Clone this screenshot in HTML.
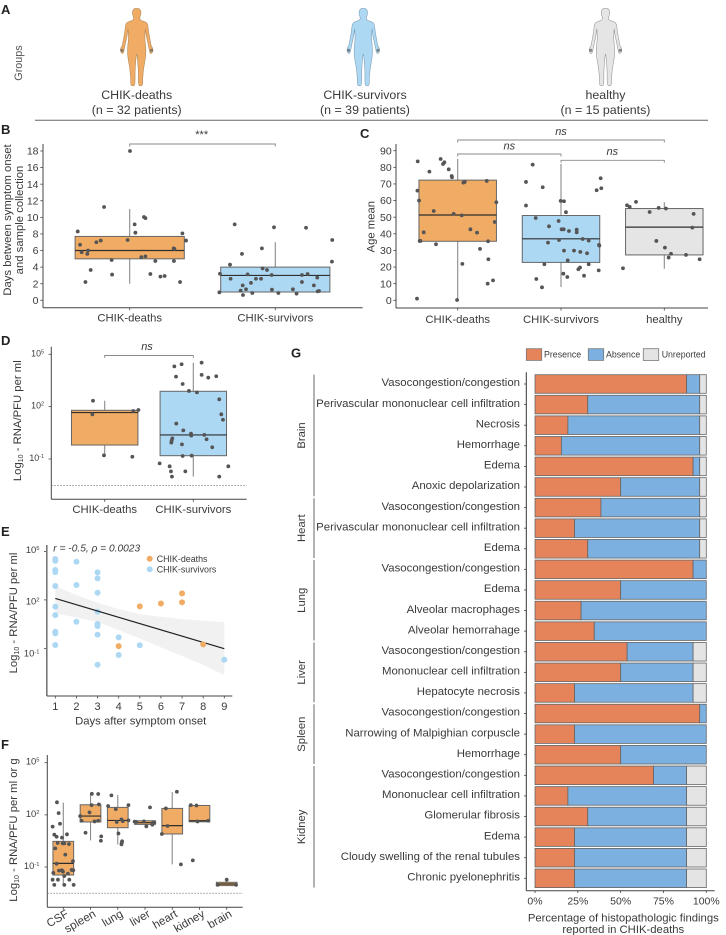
<!DOCTYPE html>
<html lang="en">
<head>
<meta charset="utf-8">
<title>CHIK deaths and survivors multi-panel figure</title>
<style>
html,body{margin:0;padding:0;background:#fff}
svg{display:block;font-family:"Liberation Sans",sans-serif;fill:#3a3a3a;filter:blur(0.3px)}
.letter{font-size:13px;font-weight:bold;fill:#222}
.t{font-size:11.3px}
.m{text-anchor:middle}
</style>
</head>
<body>
<svg id="fig" width="726" height="935" viewBox="0 0 726 935" xmlns="http://www.w3.org/2000/svg">
  <g id="panel-a">
    <text class="letter" x="1" y="14">A</text>
    <text transform="translate(22,63) rotate(-90)" class="m" font-size="10.8" fill="#555">Groups</text>
    <text class="m" x="136.7" y="99" font-size="12.4">CHIK-deaths</text>
    <text class="m" x="136.7" y="114" font-size="12.4">(n = 32 patients)</text>
    <text class="m" x="365" y="99" font-size="12.4">CHIK-survivors</text>
    <text class="m" x="365" y="114" font-size="12.4">(n = 39 patients)</text>
    <text class="m" x="605.5" y="99" font-size="12.4">healthy</text>
    <text class="m" x="605.5" y="114" font-size="12.4">(n = 15 patients)</text>
    <line x1="35" y1="120.3" x2="708" y2="120.3" stroke="#666" stroke-width="1"/>
  </g>

  <g id="panel-b">
    <text class="letter" x="1" y="134">B</text>
    <text transform="translate(11,220) rotate(-90)" class="t m">Days between symptom onset</text>
    <text transform="translate(23,220) rotate(-90)" class="t m">and sample collection</text>
    <text class="m" x="201.7" y="138" font-size="11">***</text>
  </g>

  <g id="panel-c">
    <text class="letter" x="360" y="138">C</text>
    <text transform="translate(374.5,226.7) rotate(-90)" class="t m">Age mean</text>
    <text class="m" x="561" y="135" font-size="11" font-style="italic">ns</text>
    <text class="m" x="509.3" y="149.5" font-size="11" font-style="italic">ns</text>
    <text class="m" x="612.3" y="155" font-size="11" font-style="italic">ns</text>
  </g>

  <g id="panel-d">
    <text class="letter" x="1" y="345">D</text>
    <text transform="translate(21,420.7) rotate(-90)" class="t m">Log<tspan dy="2" font-size="7">10</tspan><tspan dy="-2"> - RNA/PFU per ml</tspan></text>
    <text class="m" x="147" y="350" font-size="11" font-style="italic">ns</text>
  </g>

  <g id="panel-e">
    <text class="letter" x="1" y="536">E</text>
    <text transform="translate(17,613) rotate(-90)" class="t m">Log<tspan dy="2" font-size="7">10</tspan><tspan dy="-2"> - RNA/PFU per ml</tspan></text>
    <text class="t m" x="140.7" y="724.5">Days after symptom onset</text>
  </g>

  <g id="panel-f">
    <text class="letter" x="1" y="749">F</text>
    <text transform="translate(17,830) rotate(-90)" class="t m">Log<tspan dy="2" font-size="7">10</tspan><tspan dy="-2"> - RNA/PFU per ml or g</tspan></text>
  </g>

  <g id="panel-g">
    <text class="letter" x="291" y="357.7">G</text>
    <rect x="526.3" y="348.7" width="15.4" height="11.7" fill="#E5835A" stroke="#777" stroke-width="0.8"/>
    <text x="544" y="357.3" font-size="8.8">Presence</text>
    <rect x="588.3" y="348.7" width="15.4" height="11.7" fill="#7BB0E0" stroke="#777" stroke-width="0.8"/>
    <text x="606" y="357.3" font-size="8.8">Absence</text>
    <rect x="643.3" y="348.7" width="15.4" height="11.7" fill="#E4E4E4" stroke="#777" stroke-width="0.8"/>
    <text x="661.7" y="357.3" font-size="8.8">Unreported</text>
    <text class="t m" x="623.3" y="921.5">Percentage of histopathologic findings</text>
    <text class="t m" x="623.3" y="933">reported in CHIK-deaths</text>
  </g>
</svg>

<script>
/* ---------- Panel B data ---------- */
const bCategories = ['CHIK-deaths', 'CHIK-survivors'];
const bTicks = [0, 2, 4, 6, 8, 10, 12, 14, 16, 18];
const bQ1 = [5, 1];
const bMedian = [6, 3];
const bQ3 = [7.7, 4];
const bWhiskerLow = [2, 1];
const bWhiskerHigh = [11, 7];
const bDeathsDays = [18, 11.25, 10.04, 9.9, 9.15, 8.15, 8.3, 8.07, 7.27, 7.2, 7.2, 7, 6.7, 6.26, 6.2, 6, 5.8, 5.6, 5.2, 5.3, 4.86, 4.74, 4.74, 3.65, 3.1, 3.17, 2.85, 2.93, 2.2, 2.2];
const bDeathsJitter = [.002, -.176, .098, .108, .034, .039, -.357, .362, -.014, .387, -.199, -.229, -.341, .302, .307, -.286, -.33, -.291, .08, .108, -.124, .176, .304, -.268, -.121, .142, .211, .24, -.304, .346];
const bSurvivorsDays = [9.15, 8.8, 8.75, 7.27, 6.26, 5.6, 4.66, 4.3, 3.85, 3.65, 3.2, 3.13, 3.05, 3.05, 3.17, 2.6, 2.6, 2.6, 2.73, 2.1, 2.2, 1.8, 1.8, 1.33, 1.16, 1.28, 1.33, 1.08, 1.12, .96, .88, .88, .8, .64];
const bSurvivorsJitter = [-.279, -.009, .211, .391, -.092, -.229, .389, -.311, -.087, -.057, -.38, -.19, -.025, .183, .222, -.307, -.133, -.098, .288, -.167, .183, -.224, .265, -.201, -.238, -.023, .121, .291, .3, -.384, -.158, .021, .146, -.222];

/* ---------- Panel C data ---------- */
const cCategories = ['CHIK-deaths', 'CHIK-survivors', 'healthy'];
const cTicks = [0, 10, 20, 30, 40, 50, 60, 70, 80, 90];
const cQ1 = [35.5, 22.8, 27.3];
const cMedian = [51.3, 37, 44];
const cQ3 = [72.3, 51, 55.2];
const cWhiskerLow = [0, 8, 19];
const cWhiskerHigh = [85, 82, 59];
const cDeathsAge = [83.6, 85, 83, 82, 78.8, 77.4, 74.8, 74, 70.8, 71.2, 71.8, 66, 60, 59, 53.7, 52, 51.1, 42.7, 40.7, 47.1, 40.9, 35.7, 35.7, 35.5, 33.7, 30.9, 24.7, 21.9, 12, 10, 1, .2];
const cDeathsJitter = [-.387, -.165, -.129, -.142, -.087, -.274, -.058, -.055, .055, .068, .281, -.39, -.374, .374, -.232, -.039, .039, .123, .187, .358, -.329, -.368, -.361, .294, -.21, .216, .297, .045, .342, .29, -.394, -.006];
const cSurvivorsAge = [81.6, 71.2, 68, 57, 59.8, 59.6, 53, 73.4, 67.4, 66.2, 49.5, 47.7, 44.5, 42.7, 42.7, 41.7, 42.5, 40.9, 36.9, 35.9, 36.3, 34.7, 33.3, 32.9, 29.9, 29.9, 29.1, 28.3, 24, 21.7, 21.7, 19.7, 18.7, 18, 16, 14, 14.8, 12.8, 7.8];
const cSurvivorsJitter = [-.274, -.339, -.177, -.339, -.003, .029, .048, .384, .39, .345, -.245, -.023, -.116, .006, .026, .077, .152, .152, .21, .268, -.019, -.126, .368, .371, .029, .126, .187, .252, .065, -.161, .268, .184, .168, .365, .023, .061, .223, -.239, -.184];
const cHealthyAge = [59.2, 57.2, 56.2, 53.1, 55.6, 55.2, 52, 43.7, 35.7, 31.7, 28, 25.7, 27.3, 24.7, 19.3];
const cHealthyJitter = [-.274, -.361, -.335, -.142, -.055, .016, .284, .271, -.077, .006, .065, .042, .21, .342, -.4];

/* ---------- Panel D data (log10 scale) ---------- */
const dCategories = ['CHIK-deaths', 'CHIK-survivors'];
const logTicks = [5, 2, -1];
const dLimitOfDetection = -2.51;
const dQ1 = [-.2, -.81];
const dMedian = [1.66, .38];
const dQ3 = [1.79, 2.88];
const dWhiskerLow = [-.79, -2.01];
const dWhiskerHigh = [2.34, 4.52];
const dDeathsLog = [2.34, 1.56, 1.75, 1.81, -.79, -.87];
const dDeathsJitter = [-.132, -.139, .323, .38, -.008, .312];
const dSurvivorsLog = [4.52, 4.43, 4.31, 3.72, 3.82, 3.66, 3.74, 3.3, 2.9, 2.82, 2.42, 1.56, 1.25, 1.03, .64, .45, .34, .38, .13, .18, .05, -.06, -.16, -.33, -.83, -.81, -1.25, -1.42, -1.42, -1.71, -1.71, -2.01, -2.01];
const dSurvivorsJitter = [.094, -.132, -.214, -.195, .094, .169, .259, -.12, -.049, .041, .293, .316, .335, -.192, -.113, -.026, -.023, .124, .15, -.237, -.244, -.248, -.128, .214, -.12, -.019, -.38, -.267, .395, -.252, -.09, -.241, .293];

/* ---------- Panel E data ---------- */
const eDayTicks = [1, 2, 3, 4, 5, 6, 7, 8, 9];
const eSurvivorDays = [1, 1, 1, 1, 1, 1, 1, 1, 1, 1, 2, 2, 2, 3, 3, 3, 3, 3, 3, 3, 3, 4, 4, 5, 9];
const eSurvivorLog = [4.53, 4.42, 3.85, 3.72, 2.86, 1.58, 1.06, .03, -.07, -.79, 4.36, 2.92, .65, 3.7, 3.33, 2.44, 1.27, .51, .38, -.15, -2.01, -.32, -1.41, -.81, -1.7];
const eDeathDays = [4, 5, 6, 7, 7, 8];
const eDeathLog = [-.86, 1.6, 1.78, 2.4, 1.85, -.75];
const eFitDays = [1, 9];
const eFitLog = [2.09, -1.02];
const eRibbonDays = [1, 2, 3, 4, 5, 6, 7, 8, 9];
const eRibbonUpper = [2.86, 2.3, 1.82, 1.43, 1.12, .96, .81, .71, .63];
const eRibbonLower = [1.17, .9, .65, .13, -.38, -.94, -1.47, -2.03, -2.65];

/* ---------- Panel F data (log10 scale) ---------- */
const fCategories = ['CSF', 'spleen', 'lung', 'liver', 'heart', 'kidney', 'brain'];
const fLimitOfDetection = -2.51;
const fQ1 = [-1.46, 1.59, 1.26, 1.45, .9, 1.6, -2.07];
const fMedian = [-.79, 1.93, 1.68, 1.55, 1.38, 1.66, -1.98];
const fQ3 = [.475, 2.58, 2.43, 1.66, 2.37, 2.54, -1.88];
const fWhiskerLow = [-2.09, .53, .3, 1.45, -.85, 1.6, -2.07];
const fWhiskerHigh = [2.7, 3.23, 3.14, 1.66, 3.31, 2.54, -1.73];
const fCsfLog = [2.72, 2.1, 1.49, 1.32, .86, .88, .74, .69, .38, .36, .36, .32, .07, -.29, -.81, -.66, -1.34, -1.21, -1.19, -1.27, -1.17, -1.19, -1.38, -1.52, -1.73, -1.73, -1.73, -2.03, -2.03, -2.03];
const fCsfJitter = [-.233, -.171, -.122, -.392, -.331, .135, -.245, -.049, -.208, -.024, .037, .208, -.294, .073, -.245, .355, -.367, -.159, -.049, -.012, .306, .367, .171, .037, -.392, -.196, .22, -.331, .037, .38];
const fSpleenLog = [3.21, 3.2, 2.56, 2.6, 1.93, 2.14, 1.66, 1.62, 1.66, .97, .76, .51];
const fSpleenJitter = [.049, .282, .037, .306, -.38, -.037, -.331, .147, .282, -.184, .392, .38];
const fLungLog = [3.12, 2.51, 2.33, 2.56, 1.74, 1.59, 1.64, 1.68, .93, .48, .4, .3];
const fLungJitter = [-.233, -.355, -.073, .392, .135, -.037, .184, .392, .024, .159, .147, .135];
const fLiverLog = [1.61, 1.59, 1.62, 2.43, 1.57, 1.55, 1.34, 1.43];
const fLiverJitter = [-.38, -.318, -.037, .184, .306, .343, .049, .269];
const fHeartLog = [3.33, 2.37, 1.36, .9, -.85];
const fHeartJitter = [.171, -.233, -.171, -.38, .318];
const fKidneyLog = [2.56, 2.54, 1.62, 1.66, -.62];
const fKidneyJitter = [-.318, -.11, -.073, .318, -.245];
const fBrainLog = [-1.73, -2.03, -2.03];
const fBrainJitter = [0, -.331, .343];

/* ---------- Panel G data ---------- */
const gFindings = ['Vasocongestion/congestion', 'Perivascular mononuclear cell infiltration', 'Necrosis', 'Hemorrhage', 'Edema', 'Anoxic depolarization', 'Vasocongestion/congestion', 'Perivascular mononuclear cell infiltration', 'Edema', 'Vasocongestion/congestion', 'Edema', 'Alveolar macrophages', 'Alveolar hemorrahage', 'Vasocongestion/congestion', 'Mononuclear cell infiltration', 'Hepatocyte necrosis', 'Vasocongestion/congestion', 'Narrowing of Malpighian corpuscle', 'Hemorrhage', 'Vasocongestion/congestion', 'Mononuclear cell infiltration', 'Glomerular fibrosis', 'Edema', 'Cloudy swelling of the renal tubules', 'Chronic pyelonephritis'];
const gPresence = [88.5, 30.8, 19.2, 15.4, 92.3, 50, 38.5, 23.1, 30.8, 92.3, 50, 26.9, 34.6, 53.8, 50, 23.1, 96.15, 23.1, 50, 69.2, 19.2, 30.8, 23.1, 23.1, 23.1];
const gAbsence = [7.65, 65.35, 76.95, 80.75, 3.85, 46.15, 57.65, 73.05, 65.35, 7.7, 50, 73.1, 65.4, 38.5, 42.3, 69.2, 3.85, 76.9, 50, 19.3, 69.3, 57.7, 65.4, 65.4, 65.4];
const gUnreported = [3.85, 3.85, 3.85, 3.85, 3.85, 3.85, 3.85, 3.85, 3.85, 0, 0, 0, 0, 7.7, 7.7, 7.7, 0, 0, 0, 11.5, 11.5, 11.5, 11.5, 11.5, 11.5];
const gGroupNames = ['Brain', 'Heart', 'Lung', 'Liver', 'Spleen', 'Kidney'];
const gGroupSizes = [6, 3, 4, 3, 3, 6];
const gPercentTicks = [0, 25, 50, 75, 100];

/* ---------- Helpers ---------- */
const NS = 'http://www.w3.org/2000/svg';
const COLORS = { deaths: '#F0AC64', survivors: '#ADD8F4', healthy: '#E5E5E5', point: '#555', axis: '#444', ink: '#3a3a3a' };

function linear(d0, d1, r0, r1) { return v => r0 + (v - d0) * (r1 - r0) / (d1 - d0); }

function make(parent, tag, attrs, text) {
  const el = document.createElementNS(NS, tag);
  for (const k in attrs) el.setAttribute(k, attrs[k]);
  if (text !== undefined) el.textContent = text;
  parent.appendChild(el);
  return el;
}

function drawLine(parent, x1, y1, x2, y2, stroke, width, name, dash) {
  const el = make(parent, 'line', { x1, y1, x2, y2, stroke, 'stroke-width': width });
  if (dash) el.setAttribute('stroke-dasharray', dash);
  
  
  return el;
}

function drawLabel(parent, x, y, str, size, anchor, name, transform) {
  const el = make(parent, 'text', { x, y, 'font-size': size, 'text-anchor': anchor, fill: COLORS.ink }, str);
  if (transform) el.setAttribute('transform', transform);
  
  
  return el;
}

function drawLogLabel(parent, x, y, exponent, size, name) {
  const el = make(parent, 'text', { x, y, 'font-size': size, 'text-anchor': 'end', fill: COLORS.ink }, '10');
  make(el, 'tspan', { dy: -3, 'font-size': size * 0.62 }, String(exponent));
  
  
  return el;
}

function drawBoxes(parent, x, y, q1, med, q3, lo, hi, fills, width, names) {
  q1.forEach((_, i) => {
    const cx = x(i), half = (x(1) - x(0)) * width / 2;
    drawLine(parent, cx, y(lo[i]), cx, y(hi[i]), '#8a8a8a', 1.1, 'whisker-' + names[i]);
    const r = make(parent, 'rect', { x: cx - half, y: y(q3[i]), width: half * 2, height: Math.abs(y(q1[i]) - y(q3[i])), fill: fills[i], stroke: '#666', 'stroke-width': 1 });
    
    
    drawLine(parent, cx - half, y(med[i]), cx + half, y(med[i]), '#2e2e2e', 1.2, 'median-' + names[i]);
  });
}

function drawJitter(parent, x, y, category, jitter, values, name) {
  values.forEach((v, i) => {
    const c = make(parent, 'circle', { cx: x(category + jitter[i]), cy: y(v), r: 1.9, fill: COLORS.point });
    
    
  });
}

function drawBracket(parent, x1, x2, y, name) {
  const p = make(parent, 'path', { d: `M${x1} ${y + 2.5}V${y}H${x2}V${y + 2.5}`, fill: 'none', stroke: '#8a8a8a', 'stroke-width': 0.9 });
  
  
}

function drawAxes(parent, axisX, yTop, axisY, xRight, color, width, prefix) {
  drawLine(parent, axisX, yTop, axisX, axisY, color, width, prefix + '-y-axis');
  drawLine(parent, axisX, axisY, xRight, axisY, '#444', 1, prefix + '-x-axis');
}

function panel(id) { return document.getElementById(id); }

/* ---------- Panel A silhouettes ---------- */
const bodyHalf = [[0,8.3],[2.5,8.6],[4,10.5],[4.3,13],[3.8,15.5],[3,17.5],[3.1,19.5],[5,20.8],[8.5,21.8],[10.5,23.2],[11.3,26],[11.8,31],[12.8,37],[13.8,42],[14.4,46],[15.8,47.5],[16.3,50],[15.8,52.5],[14.3,53.8],[13.2,52.5],[12.6,50],[12,47],[10.8,41],[9.6,36],[9,31],[8.7,28],[8.4,33],[8.1,38],[8.6,43],[9.3,50],[8.8,58],[7.3,66],[6.4,73],[5.9,80],[6,85],[4,86],[2,85.5],[1.6,80],[1.7,72],[1.2,64],[.6,57],[0,53]];

function drawBody(cx, fill, stroke, name) {
  const pts = bodyHalf.map(p => [cx + p[0], p[1]]).concat(bodyHalf.slice(1, -1).reverse().map(p => [cx - p[0], p[1]]));
  let d = '';
  pts.forEach((p, i) => {
    const q = pts[(i + 1) % pts.length];
    const mx = (p[0] + q[0]) / 2, my = (p[1] + q[1]) / 2;
    d += (i === 0 ? `M${mx} ${my}` : `Q${p[0]} ${p[1]} ${mx} ${my}`);
  });
  const first = pts[0], second = pts[1];
  d += `Q${first[0]} ${first[1]} ${(first[0] + second[0]) / 2} ${(first[1] + second[1]) / 2}Z`;
  const g = make(panel('panel-a'), 'g', {});
  
  
  make(g, 'path', { d, fill, stroke, 'stroke-width': 0.6 });
  [-1, 1].forEach(s => make(g, 'circle', { cx: cx + s * 14.8, cy: 50.3, r: 1.6, fill: '#666', opacity: 0.75 }));
}
drawBody(136.7, COLORS.deaths, '#b08a5c', 'body-figure-deaths');
drawBody(363.3, COLORS.survivors, '#7f9fb5', 'body-figure-survivors');
drawBody(605.5, COLORS.healthy, '#999', 'body-figure-healthy');

/* ---------- Panel B ---------- */
(function () {
  const g = panel('panel-b');
  const x = linear(0, 1, 129.7, 275.3);
  const y = linear(0, 18, 300.3, 151);
  drawAxes(g, 43, 144, 307.7, 362.7, '#444', 1, 'b');
  bTicks.forEach(t => {
    drawLine(g, 40.3, y(t), 43, y(t), '#444', 0.8, 'y-tick-b');
    drawLabel(g, 38.5, y(t) + 3.6, String(t), 10.5, 'end', 'y-tick-label-b');
  });
  bCategories.forEach((c, i) => {
    drawLine(g, x(i), 307.7, x(i), 310.2, '#444', 0.8, 'x-tick-b');
    drawLabel(g, x(i), 321.5, c, 11.3, 'middle', 'x-tick-label-b');
  });
  drawBracket(g, x(0), x(1), 144, 'significance-bracket-b');
  drawBoxes(g, x, y, bQ1, bMedian, bQ3, bWhiskerLow, bWhiskerHigh, [COLORS.deaths, COLORS.survivors], 0.75, ['deaths', 'survivors']);
  drawJitter(g, x, y, 0, bDeathsJitter, bDeathsDays, 'point-deaths');
  drawJitter(g, x, y, 1, bSurvivorsJitter, bSurvivorsDays, 'point-survivors');
})();

/* ---------- Panel C ---------- */
(function () {
  const g = panel('panel-c');
  const x = linear(0, 1, 457.7, 561);
  const y = linear(0, 90, 300.3, 150.7);
  drawAxes(g, 396, 144, 308, 708, '#444', 1, 'c');
  cTicks.forEach(t => {
    drawLine(g, 393.3, y(t), 396, y(t), '#444', 0.8, 'y-tick-c');
    drawLabel(g, 391.7, y(t) + 3.6, String(t), 10.5, 'end', 'y-tick-label-c');
  });
  cCategories.forEach((c, i) => {
    drawLine(g, x(i), 308, x(i), 310.5, '#444', 0.8, 'x-tick-c');
    drawLabel(g, x(i), 323, c, 11.3, 'middle', 'x-tick-label-c');
  });
  drawBracket(g, x(0), x(2), 140, 'bracket-deaths-healthy');
  drawBracket(g, x(0), x(1), 154, 'bracket-deaths-survivors');
  drawBracket(g, x(1), x(2), 160.3, 'bracket-survivors-healthy');
  drawBoxes(g, x, y, cQ1, cMedian, cQ3, cWhiskerLow, cWhiskerHigh, [COLORS.deaths, COLORS.survivors, COLORS.healthy], 0.75, ['deaths', 'survivors', 'healthy']);
  drawJitter(g, x, y, 0, cDeathsJitter, cDeathsAge, 'point-deaths');
  drawJitter(g, x, y, 1, cSurvivorsJitter, cSurvivorsAge, 'point-survivors');
  drawJitter(g, x, y, 2, cHealthyJitter, cHealthyAge, 'point-healthy');
})();

/* ---------- Panel D ---------- */
(function () {
  const g = panel('panel-d');
  const x = linear(0, 1, 104.7, 193.3);
  const y = linear(-1, 5, 459, 354.3);
  drawAxes(g, 51.3, 346.7, 499.3, 246.7, '#444', 1, 'd');
  logTicks.forEach(t => {
    drawLine(g, 48.6, y(t), 51.3, y(t), '#444', 0.8, 'y-tick-d');
    drawLogLabel(g, 44, y(t) + 2, t, 8.8, 'y-tick-label-d');
  });
  dCategories.forEach((c, i) => {
    drawLine(g, x(i), 499.3, x(i), 501.8, '#444', 0.8, 'x-tick-d');
    drawLabel(g, x(i), 513, c, 11.3, 'middle', 'x-tick-label-d');
  });
  drawLine(g, 51.3, y(dLimitOfDetection), 246.7, y(dLimitOfDetection), '#777', 0.7, 'limit-of-detection-d', '1.5 1.5');
  drawBracket(g, x(0), x(1), 355.5, 'significance-bracket-d');
  drawBoxes(g, x, y, dQ1, dMedian, dQ3, dWhiskerLow, dWhiskerHigh, [COLORS.deaths, COLORS.survivors], 0.75, ['deaths', 'survivors']);
  drawJitter(g, x, y, 0, dDeathsJitter, dDeathsLog, 'point-deaths');
  drawJitter(g, x, y, 1, dSurvivorsJitter, dSurvivorsLog, 'point-survivors');
})();

/* ---------- Panel E ---------- */
(function () {
  const g = panel('panel-e');
  const x = linear(1, 9, 55.3, 224.3);
  const y = linear(-2.01, 4.53, 664.7, 559);
  const yLabel = linear(-1, 5, 653.3, 550);
  const ribbonPts = eRibbonDays.map((d, i) => x(d) + ',' + y(eRibbonUpper[i]))
    .concat(eRibbonDays.map((d, i) => x(d) + ',' + y(eRibbonLower[i])).reverse()).join(' ');
  const ribbon = make(g, 'polygon', { points: ribbonPts, fill: '#F1F1F1' });
  
  
  drawAxes(g, 46.8, 545, 696, 232.3, '#777', 1.6, 'e');
  logTicks.forEach(t => {
    drawLine(g, 44, y(t), 46, y(t), '#444', 0.8, 'y-tick-e');
    drawLogLabel(g, 39.5, yLabel(t) + 3, t, 9.4, 'y-tick-label-e');
  });
  eDayTicks.forEach(d => {
    drawLine(g, x(d), 696, x(d), 698.5, '#444', 0.8, 'x-tick-e');
    drawLabel(g, x(d), 710, String(d), 11, 'middle', 'x-tick-label-e');
  });
  eSurvivorDays.forEach((d, i) => {
    const c = make(g, 'circle', { cx: x(d), cy: y(eSurvivorLog[i]), r: 3, fill: COLORS.survivors });
    
    
  });
  drawLine(g, x(eFitDays[0]), y(eFitLog[0]), x(eFitDays[1]), y(eFitLog[1]), '#222', 1.2, 'regression-line');
  eDeathDays.forEach((d, i) => {
    const c = make(g, 'circle', { cx: x(d), cy: y(eDeathLog[i]), r: 3, fill: COLORS.deaths });
    
    
  });
  const note = drawLabel(g, 53.3, 551.5, 'r = -0.5, ρ = 0.0023', 10.2, 'start', 'correlation-annotation');
  note.setAttribute('font-style', 'italic');
  [['CHIK-deaths', COLORS.deaths, 558.7], ['CHIK-survivors', COLORS.survivors, 569.3]].forEach(e => {
    const c = make(g, 'circle', { cx: 149.7, cy: e[2], r: 3, fill: e[1] });
    
    
    drawLabel(g, 156.7, e[2] + 3.1, e[0], 8.9, 'start', 'legend-label');
  });
})();

/* ---------- Panel F ---------- */
(function () {
  const g = panel('panel-f');
  const x = linear(0, 6, 63.3, 226.7);
  const y = linear(-1, 5, 867, 762.7);
  drawAxes(g, 47.3, 755, 907.3, 242.7, '#444', 1, 'f');
  logTicks.forEach(t => {
    drawLine(g, 44.6, y(t), 47.3, y(t), '#444', 0.8, 'y-tick-f');
    drawLogLabel(g, 39.5, y(t) + 2, t, 9.4, 'y-tick-label-f');
  });
  fCategories.forEach((c, i) => {
    drawLine(g, x(i), 907.3, x(i), 909.8, '#444', 0.8, 'x-tick-f');
    drawLabel(g, x(i) + 6, 916, c, 11.5, 'end', 'x-tick-label-f', `rotate(-30 ${x(i) + 6} 916)`);
  });
  drawLine(g, 47.3, y(fLimitOfDetection), 242.7, y(fLimitOfDetection), '#777', 0.7, 'limit-of-detection-f', '1.5 1.5');
  drawBoxes(g, x, y, fQ1, fMedian, fQ3, fWhiskerLow, fWhiskerHigh, fCategories.map(() => COLORS.deaths), 0.76, fCategories);
  drawJitter(g, x, y, 0, fCsfJitter, fCsfLog, 'point-csf');
  drawJitter(g, x, y, 1, fSpleenJitter, fSpleenLog, 'point-spleen');
  drawJitter(g, x, y, 2, fLungJitter, fLungLog, 'point-lung');
  drawJitter(g, x, y, 3, fLiverJitter, fLiverLog, 'point-liver');
  drawJitter(g, x, y, 4, fHeartJitter, fHeartLog, 'point-heart');
  drawJitter(g, x, y, 5, fKidneyJitter, fKidneyLog, 'point-kidney');
  drawJitter(g, x, y, 6, fBrainJitter, fBrainLog, 'point-brain');
})();

/* ---------- Panel G ---------- */
(function () {
  const g = panel('panel-g');
  const x = linear(0, 100, 535, 706.3);
  const y = linear(0, 24, 384, 878.3);
  const h = 18.6;
  gFindings.forEach((name, i) => {
    const cy = y(i);
    drawLabel(g, 520, cy + 2.2, name, 11.4, 'end', 'finding-label');
    drawLine(g, 524, cy, 526.3, cy, '#444', 0.8, 'y-tick-g');
    let start = 0;
    [[gPresence[i], '#E5835A', 'presence'], [gAbsence[i], '#7BB0E0', 'absence'], [gUnreported[i], '#E4E4E4', 'unreported']].forEach(s => {
      if (s[0] <= 0) return;
      const r = make(g, 'rect', { x: x(start), y: cy - h / 2, width: x(start + s[0]) - x(start), height: h, fill: s[1], stroke: '#666', 'stroke-width': 0.8 });
      
      
      start += s[0];
    });
  });
  drawAxes(g, 526.3, 372.3, 890.7, 714.7, '#333', 1, 'g');
  gPercentTicks.forEach(t => {
    drawLine(g, x(t), 890.7, x(t), 893, '#444', 0.8, 'x-tick-g');
    drawLabel(g, x(t), 904.5, t + '%', 10.5, 'middle', 'x-tick-label-g');
  });
  let row = 0;
  gGroupNames.forEach((name, i) => {
    const top = y(row) - 9.3, bottom = y(row + gGroupSizes[i] - 1) + 9.3;
    drawLine(g, 314, top, 314, bottom, '#8a8a8a', 1.3, 'group-bracket-' + name.toLowerCase());
    const mid = (top + bottom) / 2;
    drawLabel(g, 305, mid, name, 11.3, 'middle', 'group-label-' + name.toLowerCase(), `rotate(-90 305 ${mid})`);
    row += gGroupSizes[i];
  });
})();
</script>
</body>
</html>
